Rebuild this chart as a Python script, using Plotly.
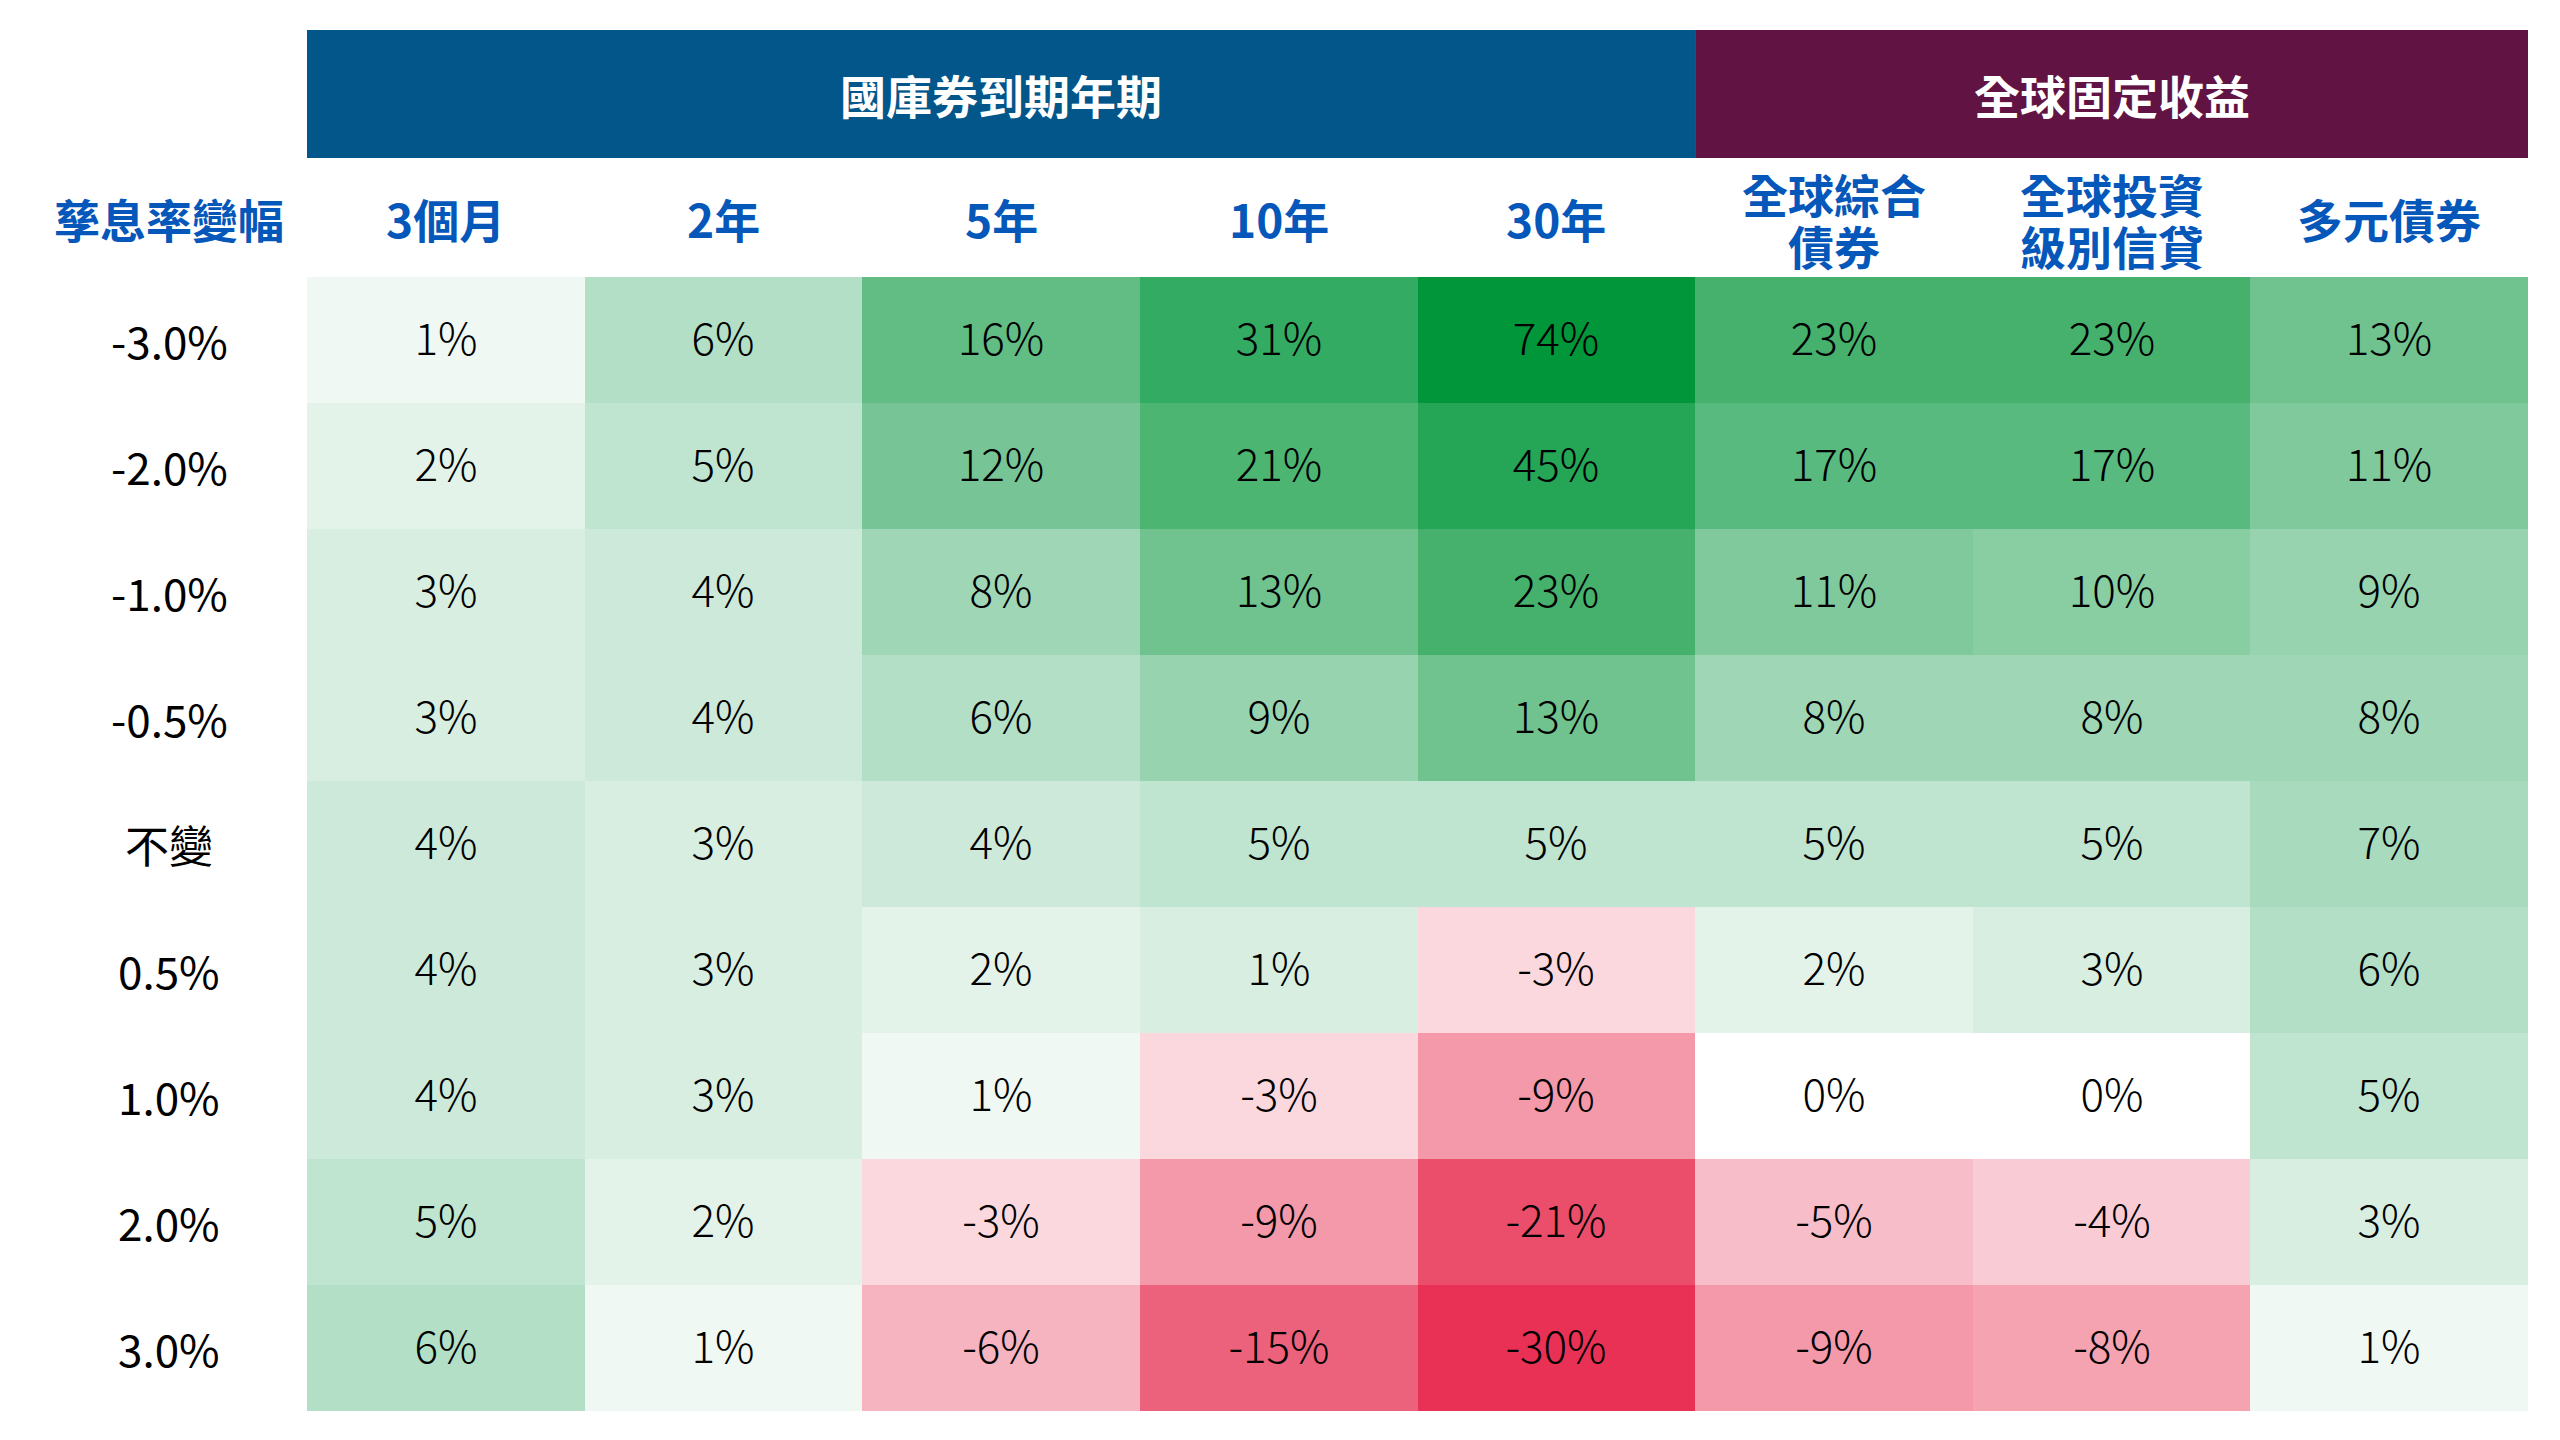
import plotly.graph_objects as go

# 孳息率變幅 vs 回報
rate_moves = ["-3.0%", "-2.0%", "-1.0%", "-0.5%", "不變", "0.5%", "1.0%", "2.0%", "3.0%"]
columns = ["3個月", "2年", "5年", "10年", "30年", "全球綜合<br>債券", "全球投資<br>級別信貸", "多元債券"]
groups = ["國庫券到期年期", "全球固定收益"]

m3 = [1, 2, 3, 3, 4, 4, 4, 5, 6]
y2 = [6, 5, 4, 4, 3, 3, 3, 2, 1]
y5 = [16, 12, 8, 6, 4, 2, 1, -3, -6]
y10 = [31, 21, 13, 9, 5, 1, -3, -9, -15]
y30 = [74, 45, 23, 13, 5, -3, -9, -21, -30]
agg = [23, 17, 11, 8, 5, 2, 0, -5, -9]
ig = [23, 17, 10, 8, 5, 3, 0, -4, -8]
multi = [13, 11, 9, 8, 7, 6, 5, 3, 1]

# the 10年 / 0.5% cell is shaded darker than its rounded label (like a 3% cell)
y10_shade = [31, 21, 13, 9, 5, 3, -3, -9, -15]

z = [list(r) for r in zip(m3, y2, y5, y10_shade, y30, agg, ig, multi)]
labels = [["%d%%" % v for v in row] for row in zip(m3, y2, y5, y10, y30, agg, ig, multi)]

# colour anchors (value -> colour), not linear
anchors = [
    (-30, "#e83155"), (-21, "#eb4e6b"), (-15, "#ec627c"), (-9, "#f399aa"),
    (-8, "#f5a2b1"), (-6, "#f6b3c0"), (-5, "#f7bdc8"), (-4, "#f9cbd5"),
    (-3, "#fbd8de"), (0, "#ffffff"), (1, "#eff8f3"), (2, "#e4f3ea"),
    (3, "#d8eee1"), (4, "#cde9d9"), (5, "#bfe4cf"), (6, "#b2dfc6"),
    (7, "#a8dabd"), (8, "#9fd6b5"), (9, "#98d3af"), (10, "#89cda3"),
    (11, "#80c99c"), (12, "#77c596"), (13, "#70c38f"), (16, "#62bd84"),
    (17, "#58ba7e"), (21, "#4cb572"), (23, "#46b16d"), (31, "#34ab62"),
    (45, "#25a556"), (74, "#009639"),
]
zmin, zmax = anchors[0][0], anchors[-1][0]
cscale = [[(v - zmin) / (zmax - zmin), c] for v, c in anchors]

W, H = 2560, 1440
OFF = 8  # page body margin


def px(x):
    return (x - OFF) / W


def py(y):
    return 1 - (y - OFF) / H


BLUE = "#02568a"
PURPLE = "#611444"
LABEL = "#0557b9"
FONT = "Noto Sans CJK TC"
LIGHT = "Noto Sans CJK TC Light, Noto Sans CJK TC"

fig = go.Figure(go.Heatmap(
    z=z, x=list(range(len(columns))), y=list(range(len(rate_moves))),
    colorscale=cscale, zmin=zmin, zmax=zmax, showscale=False,
    text=labels, texttemplate="%{text}", hoverinfo="skip",
    textfont=dict(family=LIGHT, size=44, color="black", weight=300),
))

# group header bars
spans = [(-0.5, 4.5), (4.5, 7.5)]
for (x0, x1), name, col in zip(spans, groups, [BLUE, PURPLE]):
    fig.add_shape(type="rect", xref="x", yref="paper", x0=x0, x1=x1,
                  y0=py(158), y1=py(30), fillcolor=col, line_width=0, layer="below")
    fig.add_annotation(x=(x0 + x1) / 2, y=py(94), xref="x", yref="paper",
                       text="<b>%s</b>" % name, showarrow=False,
                       xanchor="center", yanchor="middle",
                       font=dict(family=FONT, size=46, color="white"))

for i, c in enumerate(columns):
    lines = c.split("<br>")
    ys = [218] if len(lines) == 1 else [193, 245]
    for ln, yy in zip(lines, ys):
        fig.add_annotation(x=i, y=py(yy), xref="x", yref="paper", text="<b>%s</b>" % ln,
                           showarrow=False, xanchor="center", yanchor="middle",
                           font=dict(family=FONT, size=46, color=LABEL))

fig.add_annotation(x=px(169), y=py(218), xref="paper", yref="paper", text="<b>孳息率變幅</b>",
                   showarrow=False, xanchor="center", yanchor="middle",
                   font=dict(family=FONT, size=46, color=LABEL))
for j, r in enumerate(rate_moves):
    fig.add_annotation(x=px(169), y=j, xref="paper", yref="y", text=r, showarrow=False,
                       xanchor="center", yanchor="middle",
                       font=dict(family=FONT, size=44, color="black"))

fig.update_layout(
    width=W, height=H, margin=dict(l=0, r=0, t=0, b=0),
    paper_bgcolor="white", plot_bgcolor="white",
    xaxis=dict(domain=[px(307), px(2528)], range=[-0.5, 7.5], visible=False),
    yaxis=dict(domain=[py(1411), py(277)], range=[8.5, -0.5], visible=False),
)
fig.write_html("out.html")
